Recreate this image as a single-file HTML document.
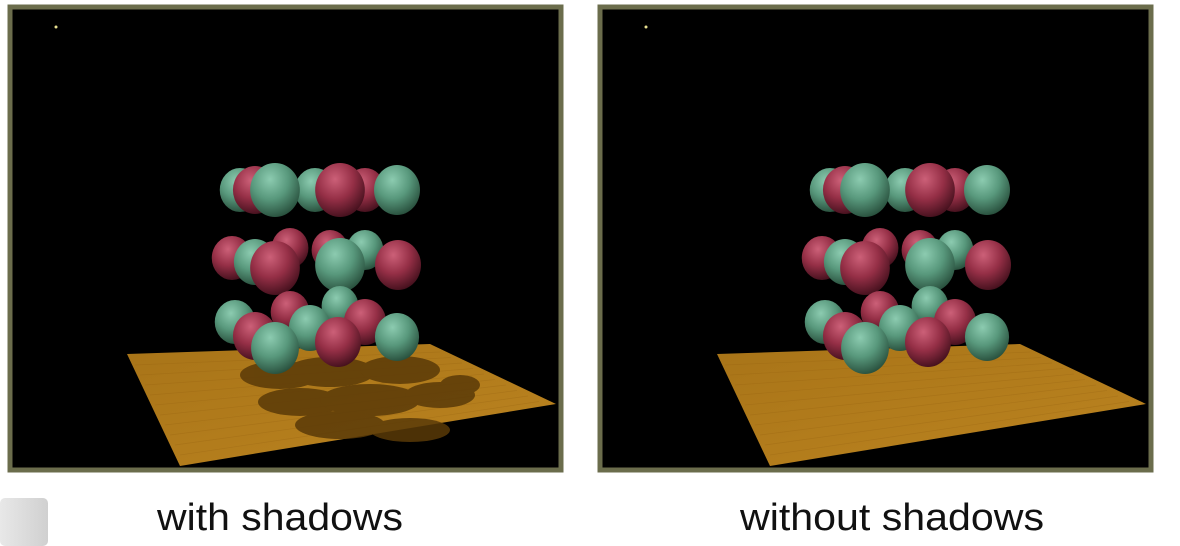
<!DOCTYPE html>
<html><head><meta charset="utf-8"><style>
html,body{margin:0;padding:0;background:#fff;width:1180px;height:546px;overflow:hidden}
svg{display:block}
</style></head><body>
<svg id="s" width="1180" height="546" viewBox="0 0 1180 546" xmlns="http://www.w3.org/2000/svg">
<defs>
<radialGradient id="gG" cx="0.4" cy="0.3" r="0.75"><stop offset="0" stop-color="#8ccbb0"/><stop offset="0.5" stop-color="#58987c"/><stop offset="1" stop-color="#254a38"/></radialGradient>
<radialGradient id="gR" cx="0.4" cy="0.3" r="0.75"><stop offset="0" stop-color="#cc6078"/><stop offset="0.5" stop-color="#952f46"/><stop offset="1" stop-color="#3e0e1a"/></radialGradient>
<linearGradient id="wood" x1="0" y1="0" x2="1" y2="1"><stop offset="0" stop-color="#a87418"/><stop offset="1" stop-color="#bc8420"/></linearGradient>
<linearGradient id="btn" x1="0" y1="0" x2="1" y2="0"><stop offset="0" stop-color="#e8e8e8"/><stop offset="1" stop-color="#d0d0d0"/></linearGradient>
</defs>
<rect x="0" y="498" width="48" height="48" rx="5" fill="url(#btn)"/>
<g id="panels"></g>
<text x="280" y="530" text-anchor="middle" font-family="Liberation Sans, sans-serif" font-size="38" fill="#111" textLength="246" lengthAdjust="spacingAndGlyphs">with shadows</text>
<text x="892" y="530" text-anchor="middle" font-family="Liberation Sans, sans-serif" font-size="38" fill="#111" textLength="304" lengthAdjust="spacingAndGlyphs">without shadows</text>
</svg>
<script>
const panelOffsets=[0,590];
const shadowFlags=[true,false];
const sphereX=[240,255,315,275,365,340,397, 290,330,365,232,255,275,340,398, 290,340,235,310,255,365,275,338,397];
const sphereY=[190,190,190,190,190,190,190, 248,250,250,258,262,268,265,265, 312,306,322,328,336,322,348,342,337];
const sphereR=[22,24,22,27,22,27,25, 20,20,20,22,23,27,27,25, 21,20,22,23,24,23,26,25,24];
const sphereC=['G','R','G','G','R','R','G', 'R','R','G','R','G','R','G','R', 'R','G','G','G','R','R','G','R','G'];
const NS='http://www.w3.org/2000/svg';
const root=document.getElementById('panels');
function mk(t,a,p){const e=document.createElementNS(NS,t);for(const k in a)e.setAttribute(k,a[k]);p.appendChild(e);return e;}
panelOffsets.forEach((ox,pi)=>{
  const g=mk('g',{transform:'translate('+ox+',0)'},root);
  
  
  mk('rect',{x:10,y:7,width:551,height:463,fill:'#000',stroke:'#6b6d4c',"stroke-width":5},g);
  mk('circle',{cx:56,cy:27,r:1.5,fill:'#e8e090'},g);
  const floor=mk('polygon',{points:'127,354 430,344 556,404 180,466',fill:'url(#wood)'},g);
  
  
  for(let i=0;i<10;i++){
    mk('line',{x1:135+i*5,y1:365+i*10,x2:440+i*11,y2:352+i*5.5,stroke:'#946010','stroke-width':0.7,opacity:0.3},g);
  }
  if(shadowFlags[pi]){
    const sh=mk('g',{fill:'#5a3a08',opacity:0.85},g);
    
    
    [[280,375,40,14],[330,372,45,15],[400,370,40,14],[300,402,42,14],[370,400,50,16],[440,395,35,13],[340,425,45,14],[410,430,40,12],[460,385,20,10]].forEach(d=>mk('ellipse',{cx:d[0],cy:d[1],rx:d[2],ry:d[3]},sh));
  }
  for(let i=0;i<sphereX.length;i++){
    const c=mk('ellipse',{cx:sphereX[i],cy:sphereY[i],rx:sphereR[i]*0.92,ry:sphereR[i],fill:sphereC[i]==='G'?'url(#gG)':'url(#gR)'},g);
    
    
  }
});
</script>
</body></html>
